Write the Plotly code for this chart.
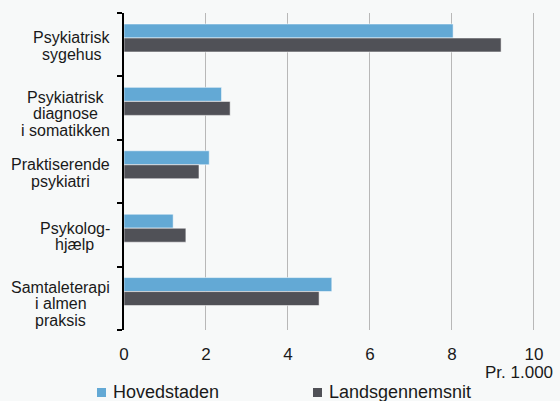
import plotly.graph_objects as go

categories = ["Psykiatrisk<br>sygehus", "Psykiatrisk<br>diagnose<br>i somatikken",
              "Praktiserende<br>psykiatri", "Psykolog-<br>hjælp",
              "Samtaleterapi<br>i almen<br>praksis"]
hovedstaden = [8.03, 2.38, 2.08, 1.20, 5.07]
landsgennemsnit = [9.20, 2.59, 1.83, 1.51, 4.76]
x_ticks = [0, 2, 4, 6, 8, 10]
series_names = ["Hovedstaden", "Landsgennemsnit"]
colors = ["#63A9D5", "#505157"]

idx = list(range(len(categories)))
BG = "#F7F9F9"
FONT = "Liberation Sans, Arial, sans-serif"
TXT = "#1a1a1a"
LBL_SIZE = 16

# Arial / Liberation Sans advance widths (1/1000 em) used to centre label lines
ADV = {"a": 556, "c": 500, "d": 556, "e": 556, "g": 556, "h": 556, "i": 222, "j": 222,
       "k": 500, "l": 222, "m": 833, "n": 556, "o": 556, "p": 556, "r": 333, "s": 500,
       "t": 278, "u": 556, "y": 500, "æ": 889, "P": 667, "S": 667, " ": 278, "-": 333}


def text_w(s, size):
    return sum(ADV.get(ch, 556) for ch in s) * size / 1000.0


fig = go.Figure()
fig.add_trace(go.Bar(y=idx, x=hovedstaden, orientation="h", name=series_names[0],
                     marker=dict(color=colors[0], line=dict(color="rgba(255,255,255,0.55)", width=1)),
                     offset=-0.327, width=0.221, showlegend=False))
fig.add_trace(go.Bar(y=idx, x=landsgennemsnit, orientation="h", name=series_names[1],
                     marker=dict(color=colors[1], line=dict(color="rgba(255,255,255,0.55)", width=1)),
                     offset=-0.106, width=0.221, showlegend=False))

# category labels: lines centred under each other, block right-aligned near the axis
LINE = 16.5
for i, c in enumerate(categories):
    lines = c.split("<br>")
    n = len(lines)
    center_shift = -1.5 if n == 2 else -5.5
    block_w = max(text_w(s, LBL_SIZE) for s in lines)
    for k, ln in enumerate(lines):
        off = (k - (n - 1) / 2) * LINE
        fig.add_annotation(x=0, xref="paper", y=i, yref="y", text=ln, showarrow=False,
                           xanchor="center", yanchor="middle",
                           xshift=-14 - block_w / 2,
                           yshift=center_shift - off,
                           font=dict(family=FONT, size=LBL_SIZE, color=TXT))

# unit label
fig.add_annotation(x=1, xref="paper", y=0, yref="paper", text="Pr. 1.000", showarrow=False,
                   xanchor="right", yanchor="top", xshift=17, yshift=-31,
                   font=dict(family=FONT, size=17, color=TXT))

# legend drawn as swatches + text
leg_x = [97, 313]
for name, col, lx in zip(series_names, colors, leg_x):
    fig.add_shape(type="rect", xref="paper", yref="paper",
                  x0=(lx - 124) / 414, x1=(lx + 9 - 124) / 414,
                  y0=(401 - 71 - 397) / 317, y1=(401 - 71 - 388) / 317,
                  fillcolor=col, line=dict(width=0))
    fig.add_annotation(x=(lx + 14 - 124) / 414, xref="paper", y=(401 - 71 - 392) / 317, yref="paper",
                       text=name, showarrow=False, xanchor="left", yanchor="middle",
                       font=dict(family=FONT, size=18, color=TXT))

fig.update_layout(
    width=560, height=401,
    margin=dict(l=124, r=22, t=13, b=71),
    paper_bgcolor=BG, plot_bgcolor=BG,
    barmode="overlay",
    font=dict(family=FONT, size=17, color=TXT),
)
fig.update_xaxes(range=[0, 10.1], tickvals=x_ticks, showgrid=True, gridcolor="#B8B8B8",
                 gridwidth=1, zeroline=False, showline=False, ticks="",
                 ticklabelstandoff=12, tickfont=dict(family=FONT, size=17, color=TXT))
fig.update_yaxes(range=[4.5, -0.5], tickvals=[i + 0.5 for i in [-1] + idx], showticklabels=False,
                 ticks="outside", ticklen=5, tickwidth=2, tickcolor="#000000",
                 showline=True, linecolor="#000000", linewidth=2, showgrid=False, zeroline=False)

post = """
document.body.style.margin='0';document.body.style.overflow='hidden';
document.body.style.background='%s';
""" % BG

fig.write_html("out.html", post_script=post, config={"displayModeBar": False})
